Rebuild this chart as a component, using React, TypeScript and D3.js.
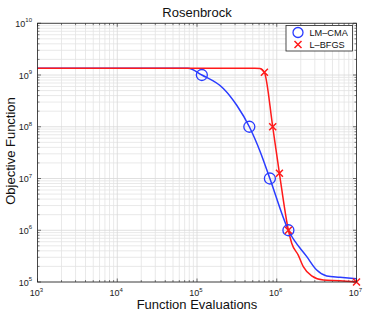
import React from "react";
import * as d3 from "d3";

const lmcmaX = [1e3, 7.7e4, 1.15e5, 2.14e5, 3.15e5, 4.53e5, 6.2e5, 8.2e5, 1.4e6, 2.38e6, 3.17e6, 4.23e6, 6.2e6, 1e7];
const lmcmaY = [1.35e9, 1.35e9, 1.0e9, 5.5e8, 2.6e8, 1.0e8, 3.3e7, 1.0e7, 1.0e6, 3.1e5, 1.7e5, 1.31e5, 1.23e5, 1.15e5];
const lmcmaMarkX = [1.15e5, 4.53e5, 8.2e5, 1.4e6];
const lmcmaMarkY = [1e9, 1e8, 1e7, 1e6];

const lbfgsX = [1e3, 5.3e5, 6.2e5, 7.0e5, 8.9e5, 1.08e6, 1.4e6, 1.54e6, 1.86e6, 2.15e6, 2.74e6, 3.84e6, 6.2e6, 1e7];
const lbfgsY = [1.35e9, 1.35e9, 1.33e9, 1.13e9, 1.0e8, 1.26e7, 1.0e6, 5.6e5, 3.3e5, 1.98e5, 1.31e5, 1.09e5, 1.06e5, 1.0e5];
const lbfgsMarkX = [7.0e5, 8.9e5, 1.08e6, 1.4e6, 1e7];
const lbfgsMarkY = [1.13e9, 1.0e8, 1.26e7, 1.0e6, 1.0e5];

const xTickExp = [3, 4, 5, 6, 7];
const yTickExp = [5, 6, 7, 8, 9, 10];
const seriesNames = ["LM\u2013CMA", "L\u2013BFGS"];

export default function App() {
  const W = 365, H = 313;
  const L = 37.5, R = 356.5, T = 23.25, B = 282;
  const x = d3.scaleLog().domain([1e3, 1e7]).range([L, R]);
  const y = d3.scaleLog().domain([1e5, 1e10]).range([B, T]);
  const font = "Liberation Sans, Arial, Helvetica, sans-serif";

  const minorX: number[] = [];
  for (let e = 3; e < 7; e++) for (let k = 2; k <= 9; k++) minorX.push(k * Math.pow(10, e));
  const minorY: number[] = [];
  for (let e = 5; e < 10; e++) for (let k = 2; k <= 9; k++) minorY.push(k * Math.pow(10, e));

  const line = (xs: number[], ys: number[]) =>
    d3.line<number>().x((_, i) => x(xs[i])).y((_, i) => y(ys[i])).curve(d3.curveMonotoneX)(xs) || "";

  const blue = "#2a3cff";
  const red = "#ff1a1a";
  const grid = "#e3e3e3";
  const Xmark = (cx: number, cy: number, s: number, key: any) => (
    <path key={key} d={`M${cx - s},${cy - s}L${cx + s},${cy + s}M${cx - s},${cy + s}L${cx + s},${cy - s}`} stroke={red} strokeWidth={1.5} fill="none" />
  );

  return (
    <svg width={W} height={H} style={{ position: "absolute", left: 0, top: 0 }} fontFamily={font}>
      <rect x={0} y={0} width={W} height={H} fill="#fff" />
      {/* grid */}
      {minorX.map((v, i) => <line key={"mx" + i} x1={x(v)} x2={x(v)} y1={T} y2={B} stroke={grid} strokeWidth={0.8} />)}
      {minorY.map((v, i) => <line key={"my" + i} x1={L} x2={R} y1={y(v)} y2={y(v)} stroke={grid} strokeWidth={0.8} />)}
      {xTickExp.map((e) => <line key={"gx" + e} x1={x(Math.pow(10, e))} x2={x(Math.pow(10, e))} y1={T} y2={B} stroke="#d8d8d8" strokeWidth={0.8} />)}
      {yTickExp.map((e) => <line key={"gy" + e} x1={L} x2={R} y1={y(Math.pow(10, e))} y2={y(Math.pow(10, e))} stroke="#d8d8d8" strokeWidth={0.8} />)}
      {/* ticks */}
      {minorX.map((v, i) => (
        <g key={"tx" + i} stroke="#333" strokeWidth={0.6}>
          <line x1={x(v)} x2={x(v)} y1={B} y2={B - 2} />
          <line x1={x(v)} x2={x(v)} y1={T} y2={T + 2} />
        </g>
      ))}
      {minorY.map((v, i) => (
        <g key={"ty" + i} stroke="#333" strokeWidth={0.6}>
          <line x1={L} x2={L + 2} y1={y(v)} y2={y(v)} />
          <line x1={R} x2={R - 2} y1={y(v)} y2={y(v)} />
        </g>
      ))}
      {xTickExp.map((e) => (
        <g key={"Tx" + e} stroke="#333" strokeWidth={0.7}>
          <line x1={x(Math.pow(10, e))} x2={x(Math.pow(10, e))} y1={B} y2={B - 3.5} />
          <line x1={x(Math.pow(10, e))} x2={x(Math.pow(10, e))} y1={T} y2={T + 3.5} />
        </g>
      ))}
      {yTickExp.map((e) => (
        <g key={"Ty" + e} stroke="#333" strokeWidth={0.7}>
          <line x1={L} x2={L + 3.5} y1={y(Math.pow(10, e))} y2={y(Math.pow(10, e))} />
          <line x1={R} x2={R - 3.5} y1={y(Math.pow(10, e))} y2={y(Math.pow(10, e))} />
        </g>
      ))}
      {/* lines */}
      <path d={line(lmcmaX, lmcmaY)} fill="none" stroke={blue} strokeWidth={1.5} />
      <path d={line(lbfgsX, lbfgsY)} fill="none" stroke={red} strokeWidth={1.5} />
      {lmcmaMarkX.map((v, i) => <circle key={"c" + i} cx={x(v)} cy={y(lmcmaMarkY[i])} r={5.5} fill="none" stroke={blue} strokeWidth={1.3} />)}
      {lbfgsMarkX.map((v, i) => Xmark(x(v), y(lbfgsMarkY[i]), 3.5, "x" + i))}
      {/* box */}
      <rect x={L} y={T} width={R - L} height={B - T} fill="none" stroke="#222" strokeWidth={0.8} />
      {/* tick labels */}
      {xTickExp.map((e) => (
        <text key={"lx" + e} x={x(Math.pow(10, e)) - 1} y={296} textAnchor="middle" fontSize={9} fill="#222">
          10<tspan fontSize={6} dy={-4.5}>{e}</tspan>
        </text>
      ))}
      {yTickExp.map((e) => (
        <text key={"ly" + e} x={32} y={y(Math.pow(10, e)) + 3.5} textAnchor="end" fontSize={9} fill="#222">
          10<tspan fontSize={6} dy={-4.5}>{e}</tspan>
        </text>
      ))}
      {/* legend */}
      <rect x={286} y={25.5} width={66.5} height={25.5} fill="#fff" stroke="#222" strokeWidth={0.8} />
      <circle cx={298} cy={32.5} r={5} fill="none" stroke={blue} strokeWidth={1.3} />
      <text x={309.5} y={36} fontSize={9.2} fill="#111">{seriesNames[0]}</text>
      {Xmark(298, 44.5, 3.5, "lx")}
      <text x={309.5} y={48} fontSize={9.2} fill="#111">{seriesNames[1]}</text>
      {/* titles */}
      <text x={197} y={17} textAnchor="middle" fontSize={13} fill="#111">Rosenbrock</text>
      <text x={197} y={309} textAnchor="middle" fontSize={13} fill="#111">Function Evaluations</text>
      <text transform={`translate(15,151) rotate(-90)`} textAnchor="middle" fontSize={13} fill="#111">Objective Function</text>
    </svg>
  );
}
